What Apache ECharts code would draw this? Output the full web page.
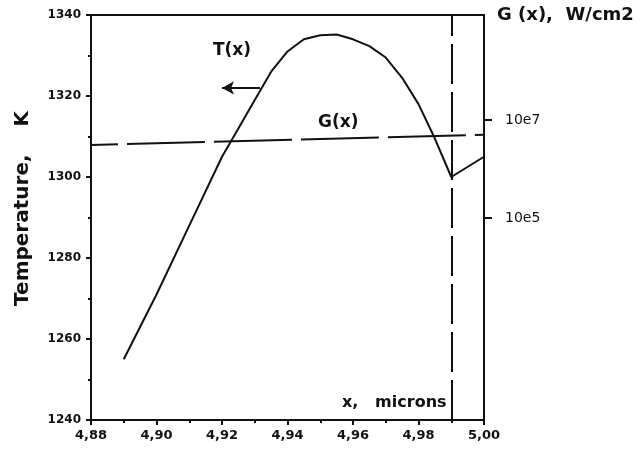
<!DOCTYPE html>
<html>
<head>
<meta charset="utf-8">
<script src="https://cdn.jsdelivr.net/npm/echarts@6/dist/echarts.min.js"></script>
<style>
  html, body { margin: 0; padding: 0; background: #fff; }
  #chart { width: 642px; height: 456px; }
</style>
</head>
<body>
<div id="chart"></div>
<script>
// temperature profile T(x)
const xValues = [4.89, 4.90, 4.91, 4.92, 4.925, 4.93, 4.935, 4.94, 4.945, 4.95, 4.955, 4.96, 4.965, 4.97, 4.975, 4.98, 4.985, 4.99, 5.00]
const tValues = [1255, 1271, 1288, 1305, 1312, 1319, 1326, 1331, 1334, 1335, 1335.2, 1334, 1332.3, 1329.5, 1324.5, 1318, 1309.5, 1300, 1305]

// G(x), W/cm2 at both ends (straight line on the log scale)
const gX = [4.88, 5.00]
const gValues = [3.1e6, 5.0e6]

// right axis decades that carry a label
const gTicks = [5, 7]

const black = '#111'
const font = '"DejaVu Sans", Arial, sans-serif'

const chart = echarts.init(document.getElementById('chart'))

const option = {
  animation: false,
  grid: {
    left: 91,
    right: 158,
    top: 15,
    bottom: 36,
    show: true,
    borderColor: black,
    borderWidth: 2
  },
  xAxis: {
    type: 'value',
    min: 4.88,
    max: 5.00,
    interval: 0.02,
    axisLine: { lineStyle: { color: black, width: 2 } },
    axisTick: { inside: false, length: 5, lineStyle: { color: black, width: 2 } },
    minorTick: { show: true, splitNumber: 2, length: 3, lineStyle: { color: black, width: 2 } },
    splitLine: { show: false },
    axisLabel: {
      color: black,
      fontFamily: font,
      fontWeight: 'bold',
      fontSize: 13,
      margin: 9,
      formatter: v => v.toFixed(2).replace('.', ',')
    }
  },
  yAxis: [
    {
      type: 'value',
      min: 1240,
      max: 1340,
      interval: 20,
      name: 'Temperature,    K',
      nameLocation: 'middle',
      nameGap: 58,
      nameTextStyle: {
        color: black,
        fontFamily: font,
        fontWeight: 'bold',
        fontSize: 20,
        padding: [0, 0, 0, 18]
      },
      axisLine: { lineStyle: { color: black, width: 2 } },
      axisTick: { inside: false, length: 5, lineStyle: { color: black, width: 2 } },
      minorTick: { show: true, splitNumber: 2, length: 3, lineStyle: { color: black, width: 2 } },
      splitLine: { show: false },
      axisLabel: {
        color: black,
        fontFamily: font,
        fontSize: 12,
        fontWeight: 'bold',
        margin: 10,
        formatter: v => String(v)
      }
    },
    {
      type: 'value',
      position: 'right',
      min: 0.878,
      max: 9.143,
      name: 'G (x),  W/cm2',
      nameLocation: 'end',
      nameGap: 0,
      nameTextStyle: {
        color: black,
        fontFamily: font,
        fontWeight: 'bold',
        fontSize: 18,
        align: 'left',
        verticalAlign: 'middle',
        padding: [0, 0, 0, 13]
      },
      axisLine: { show: true, lineStyle: { color: black, width: 2 } },
      axisTick: {
        inside: false,
        length: 8,
        customValues: gTicks,
        lineStyle: { color: black, width: 2 }
      },
      splitLine: { show: false },
      axisLabel: {
        color: black,
        fontFamily: font,
        fontSize: 14,
        margin: 21,
        customValues: gTicks,
        formatter: v => '10e' + Math.round(v)
      }
    }
  ],
  graphic: [
    {
      type: 'text',
      left: 213,
      top: 42,
      style: { text: 'T(x)', fill: black, font: 'bold 17px ' + font }
    },
    {
      type: 'text',
      left: 318,
      top: 114,
      style: { text: 'G(x)', fill: black, font: 'bold 17px ' + font }
    },
    {
      type: 'text',
      left: 342,
      top: 395,
      style: { text: 'x,   microns', fill: black, font: 'bold 16px ' + font }
    }
  ],
  series: [
    {
      name: 'T(x)',
      type: 'line',
      yAxisIndex: 0,
      data: xValues.map((x, i) => [x, tValues[i]]),
      showSymbol: false,
      lineStyle: { color: black, width: 2 },
      markLine: {
        silent: true,
        symbol: ['none', 'arrow'],
        symbolSize: [10, 12],
        label: { show: false },
        lineStyle: { color: black, width: 2, type: 'solid' },
        data: [
          [{ coord: [4.9316, 1322] }, { coord: [4.92, 1322] }]
        ]
      }
    },
    {
      name: 'G(x)',
      type: 'line',
      yAxisIndex: 1,
      data: gX.map((x, i) => [x, Math.log10(gValues[i])]),
      showSymbol: false,
      lineStyle: { color: black, width: 2, type: [78, 9], dashOffset: 51 },
      markLine: {
        silent: true,
        symbol: ['none', 'none'],
        label: { show: false },
        lineStyle: { color: black, width: 2, type: [40, 8] },
        data: [{ xAxis: 4.99 }]
      }
    }
  ]
}

chart.setOption(option)
</script>
</body>
</html>
